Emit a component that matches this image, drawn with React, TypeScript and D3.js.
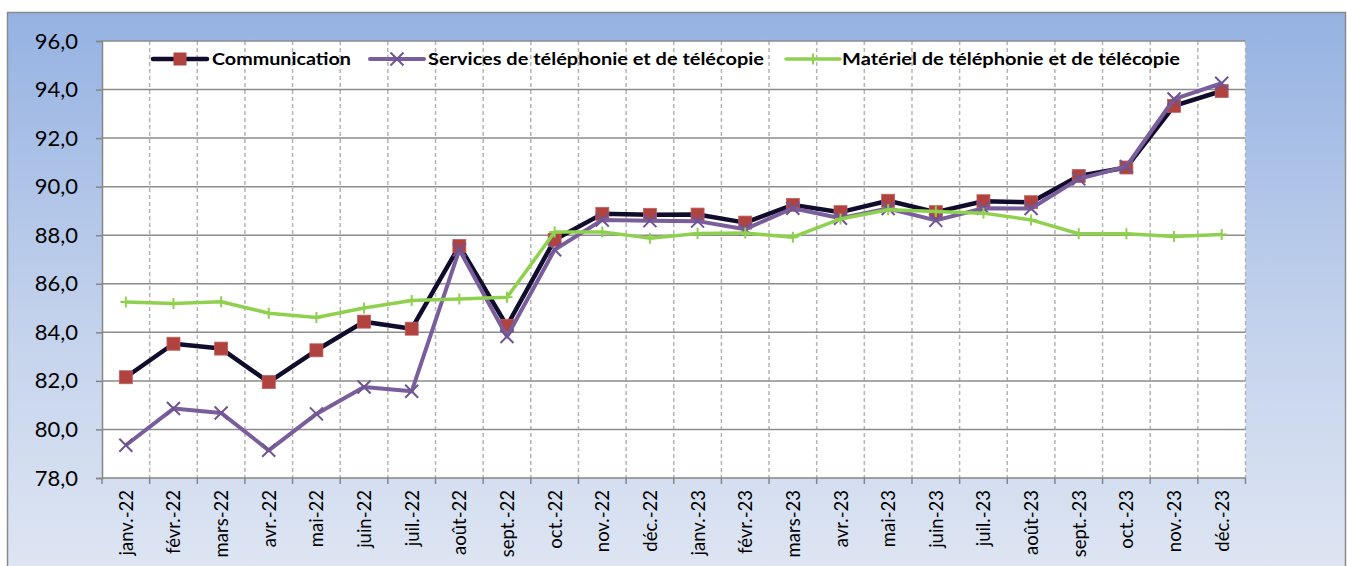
import React, { useEffect, useRef } from 'react';
import * as d3 from 'd3';

const months = [
  'janv.-22', 'févr.-22', 'mars-22', 'avr.-22', 'mai-22', 'juin-22', 'juil.-22', 'août-22',
  'sept.-22', 'oct.-22', 'nov.-22', 'déc.-22', 'janv.-23', 'févr.-23', 'mars-23', 'avr.-23',
  'mai-23', 'juin-23', 'juil.-23', 'août-23', 'sept.-23', 'oct.-23', 'nov.-23', 'déc.-23',
];

const communication = [
  82.15, 83.53, 83.33, 81.95, 83.26, 84.44, 84.15, 87.56, 84.27, 87.81, 88.88, 88.84,
  88.85, 88.52, 89.25, 88.95, 89.42, 88.95, 89.40, 89.36, 90.44, 90.79, 93.33, 93.94,
];

const services = [
  79.35, 80.86, 80.68, 79.14, 80.64, 81.75, 81.57, 87.40, 83.83, 87.40, 88.63, 88.60,
  88.58, 88.25, 89.11, 88.70, 89.10, 88.61, 89.11, 89.10, 90.32, 90.83, 93.61, 94.26,
];

const materiel = [
  85.25, 85.19, 85.26, 84.79, 84.61, 85.00, 85.31, 85.37, 85.44, 88.13, 88.13, 87.88,
  88.07, 88.09, 87.92, 88.67, 89.05, 88.98, 88.91, 88.63, 88.06, 88.06, 87.95, 88.03,
];

const yTicks = [78, 80, 82, 84, 86, 88, 90, 92, 94, 96];

const seriesNames = [
  'Communication',
  'Services de téléphonie et de télécopie',
  'Matériel de téléphonie et de télécopie',
];

const W = 1347;
const H = 566;
const FONT = 'Lato, "Open Sans", sans-serif';

const App: React.FC = () => {
  const svgRef = useRef<SVGSVGElement>(null);

  useEffect(() => {
    if (!svgRef.current) return;
    const svg = d3.select(svgRef.current);
    svg.selectAll('*').remove();

    const left = 102, right = 1245.5, top = 41, bottom = 478;

    const x = d3.scaleBand<string>().domain(months).range([left, right]);
    const y = d3.scaleLinear().domain([78, 96]).range([bottom, top]);

    // background
    const defs = svg.append('defs');
    const grad = defs.append('linearGradient')
      .attr('id', 'bg').attr('x1', 0).attr('y1', 0).attr('x2', 0).attr('y2', 1);
    grad.append('stop').attr('offset', '0%').attr('stop-color', '#95b2e2');
    grad.append('stop').attr('offset', '55%').attr('stop-color', '#c3d2ec');
    grad.append('stop').attr('offset', '100%').attr('stop-color', '#dfe6f3');

    svg.append('rect')
      .attr('x', 7.5).attr('y', 12.5).attr('width', W - 9).attr('height', H)
      .attr('fill', 'url(#bg)').attr('stroke', '#8a8a8a').attr('stroke-width', 1.5);

    svg.append('rect')
      .attr('x', left).attr('y', top).attr('width', right - left).attr('height', bottom - top)
      .attr('fill', '#ffffff');

    // vertical dashed gridlines
    const bounds = months.map(m => x(m)!).concat([right]);
    svg.append('g').selectAll('line').data(bounds.slice(1)).join('line')
      .attr('x1', d => d).attr('x2', d => d).attr('y1', top).attr('y2', bottom)
      .attr('stroke', '#b4b4b4').attr('stroke-width', 1.5).attr('stroke-dasharray', '4,3');

    // horizontal gridlines
    svg.append('g').selectAll('line').data(yTicks.slice(1)).join('line')
      .attr('x1', left).attr('x2', right).attr('y1', d => y(d)).attr('y2', d => y(d))
      .attr('stroke', '#8c8c8c').attr('stroke-width', 1.5);

    // axes
    const yAxis = svg.append('g')
      .attr('transform', `translate(${left},0)`)
      .call(d3.axisLeft(y).tickValues(yTicks).tickSize(6).tickPadding(18)
        .tickFormat(d => d3.format('.1f')(d as number).replace('.', ',')));
    yAxis.select('.domain').attr('stroke', '#868686').attr('stroke-width', 1.5);
    yAxis.selectAll('.tick line').attr('stroke', '#868686').attr('stroke-width', 1.5);
    yAxis.selectAll('.tick text')
      .attr('font-family', FONT).attr('font-size', 22).attr('fill', '#000');

    svg.append('line')
      .attr('x1', left).attr('x2', right).attr('y1', bottom).attr('y2', bottom)
      .attr('stroke', '#868686').attr('stroke-width', 1.5);
    svg.append('g').selectAll('line').data(bounds).join('line')
      .attr('x1', d => d).attr('x2', d => d).attr('y1', bottom).attr('y2', bottom + 6)
      .attr('stroke', '#868686').attr('stroke-width', 1.5);

    svg.append('g').selectAll('text').data(months).join('text')
      .attr('transform', d => `translate(${x(d)! + x.bandwidth() / 2 + 7},${bottom + 12}) rotate(-90)`)
      .attr('text-anchor', 'end')
      .attr('font-family', FONT).attr('font-size', 18.5).attr('fill', '#000')
      .text(d => d);

    const cx = (i: number) => x(months[i])! + x.bandwidth() / 2;
    const line = d3.line<number>().x((_, i) => cx(i)).y(d => y(d));

    // Communication
    svg.append('path').datum(communication).attr('d', line)
      .attr('fill', 'none').attr('stroke', '#100c2c').attr('stroke-width', 4.5)
      .attr('stroke-linejoin', 'round');
    svg.append('g').selectAll('rect').data(communication).join('rect')
      .attr('x', (_, i) => cx(i) - 6.5).attr('y', d => y(d) - 6.5)
      .attr('width', 13).attr('height', 13)
      .attr('fill', '#b0433f').attr('stroke', '#c0605c').attr('stroke-width', 0.8);

    // Services
    svg.append('path').datum(services).attr('d', line)
      .attr('fill', 'none').attr('stroke', '#7a5e9c').attr('stroke-width', 4)
      .attr('stroke-linejoin', 'round');
    svg.append('g').selectAll('path').data(services).join('path')
      .attr('d', (d, i) => {
        const px = cx(i), py = y(d), s = 6.5;
        return `M${px - s},${py - s}L${px + s},${py + s}M${px - s},${py + s}L${px + s},${py - s}`;
      })
      .attr('stroke', '#6f5592').attr('stroke-width', 2).attr('fill', 'none');

    // Matériel
    svg.append('path').datum(materiel).attr('d', line)
      .attr('fill', 'none').attr('stroke', '#8fd14f').attr('stroke-width', 3.5)
      .attr('stroke-linejoin', 'round');
    svg.append('g').selectAll('path').data(materiel).join('path')
      .attr('d', (d, i) => {
        const px = cx(i), py = y(d), s = 5.5;
        return `M${px},${py - s}L${px},${py + s}M${px - s},${py}L${px + s},${py}`;
      })
      .attr('stroke', '#8fd14f').attr('stroke-width', 2).attr('fill', 'none');

    // legend
    const ly = 59;
    const legend = svg.append('g');
    const lg = [
      { x0: 153, tx: 212, w: 139, color: '#100c2c', sw: 4.5 },
      { x0: 370, tx: 428, w: 336, color: '#7a5e9c', sw: 4 },
      { x0: 786, tx: 842, w: 338, color: '#8fd14f', sw: 3.5 },
    ];
    lg.forEach((l, k) => {
      legend.append('line')
        .attr('x1', l.x0).attr('x2', l.x0 + 54).attr('y1', ly).attr('y2', ly)
        .attr('stroke', l.color).attr('stroke-width', l.sw).attr('stroke-linecap', 'round');
      const mx = l.x0 + 27;
      if (k === 0) {
        legend.append('rect').attr('x', mx - 6.5).attr('y', ly - 6.5)
          .attr('width', 13).attr('height', 13).attr('fill', '#b0433f');
      } else if (k === 1) {
        const s = 6.5;
        legend.append('path')
          .attr('d', `M${mx - s},${ly - s}L${mx + s},${ly + s}M${mx - s},${ly + s}L${mx + s},${ly - s}`)
          .attr('stroke', '#6f5592').attr('stroke-width', 2);
      } else {
        const s = 5.5;
        legend.append('path')
          .attr('d', `M${mx},${ly - s}L${mx},${ly + s}M${mx - s},${ly}L${mx + s},${ly}`)
          .attr('stroke', '#8fd14f').attr('stroke-width', 2);
      }
      legend.append('text')
        .attr('x', l.tx).attr('y', ly + 6)
        .attr('font-family', FONT).attr('font-size', 17.5).attr('font-weight', 'bold')
        .attr('textLength', l.w).attr('lengthAdjust', 'spacingAndGlyphs')
        .attr('fill', '#000')
        .text(seriesNames[k]);
    });
  }, []);

  return (
    <div style={{ position: 'absolute', left: 0, top: 0 }}>
      <svg ref={svgRef} width={W} height={H} />
    </div>
  );
};

export default App;
